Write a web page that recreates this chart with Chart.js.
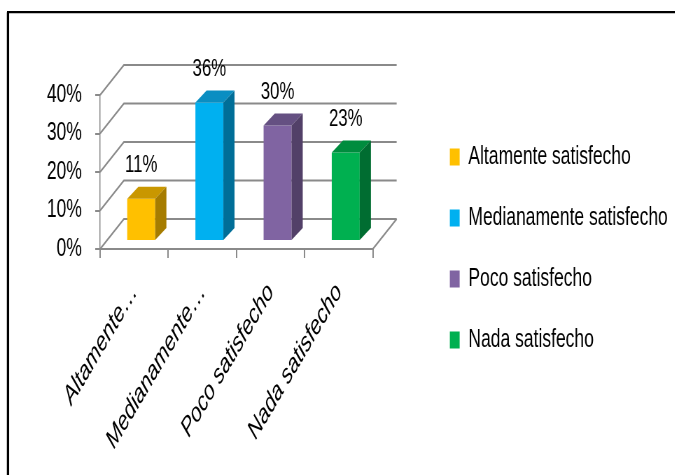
<!DOCTYPE html>
<html>
<head>
<meta charset="utf-8">
<script src="https://cdn.jsdelivr.net/npm/chart.js@4/dist/chart.umd.min.js"></script>
<style>
  html, body { margin: 0; padding: 0; background: #fff; overflow: hidden; }
  /* the chart is laid out wide and squeezed horizontally, like the narrow office font */
  #wrap { width: 964px; height: 475px; transform: scaleX(0.7); transform-origin: 0 0; }
</style>
</head>
<body>
<div id="wrap"><canvas id="chart" width="964" height="475"></canvas></div>
<script>
'use strict';

const categories = ['Altamente satisfecho', 'Medianamente satisfecho', 'Poco satisfecho', 'Nada satisfecho'];
const shares = [0.11, 0.36, 0.30, 0.23];
const yTicks = [0, 0.1, 0.2, 0.3, 0.4];

const frontColors = ['#FFC000', '#00B0F0', '#8064A2', '#00B050'];
const topColors = ['#C99700', '#0A8EC2', '#655082', '#008C3E'];
const sideColors = ['#A67C00', '#006E98', '#524068', '#006D31'];

const FONT = "'Liberation Sans', Arial, sans-serif";
const GRID = '#8a8a8a';

// fake 3D: depth of the back wall and of each column
const WALL_DX = 34, WALL_DY = -30;
const BAR_SHIFT_X = 10, BAR_SHIFT_Y = -8;
const BAR_DX = 16, BAR_DY = -12;

const frame = {
  id: 'frame',
  beforeDraw(chart) {
    const ctx = chart.ctx;
    ctx.save();
    ctx.strokeStyle = '#000';
    ctx.lineWidth = 3.3;
    ctx.beginPath();
    ctx.moveTo(11.4, chart.height + 5);
    ctx.lineTo(11.4, 12.2);
    ctx.stroke();
    ctx.lineWidth = 2.3;
    ctx.beginPath();
    ctx.moveTo(10, 12.2);
    ctx.lineTo(chart.width + 5, 12.2);
    ctx.stroke();
    ctx.restore();
  }
};

const box3d = {
  id: 'box3d',
  beforeDatasetsDraw(chart) {
    const {ctx, chartArea: {left, right, bottom}, scales: {y}} = chart;
    ctx.save();
    ctx.strokeStyle = GRID;
    ctx.lineWidth = 2;
    yTicks.forEach(v => {
      const py = y.getPixelForValue(v);
      ctx.beginPath();
      ctx.moveTo(left, py);
      ctx.lineTo(left + WALL_DX, py + WALL_DY);
      ctx.lineTo(right + WALL_DX, py + WALL_DY);
      ctx.stroke();
    });
    ctx.beginPath();
    ctx.moveTo(right, bottom);
    ctx.lineTo(right + WALL_DX, bottom + WALL_DY);
    ctx.stroke();
    ctx.restore();

    // columns stand in the middle of the floor
    ctx.save();
    ctx.translate(BAR_SHIFT_X, BAR_SHIFT_Y);
  },
  afterDatasetsDraw(chart) {
    const ctx = chart.ctx;
    chart.getDatasetMeta(0).data.forEach((bar, i) => {
      const {x, y, base, width} = bar.getProps(['x', 'y', 'base', 'width'], true);
      const l = x - width / 2, r = x + width / 2;
      ctx.fillStyle = topColors[i];
      ctx.beginPath();
      ctx.moveTo(l, y);
      ctx.lineTo(r, y);
      ctx.lineTo(r + BAR_DX, y + BAR_DY);
      ctx.lineTo(l + BAR_DX, y + BAR_DY);
      ctx.closePath();
      ctx.fill();
      ctx.fillStyle = sideColors[i];
      ctx.beginPath();
      ctx.moveTo(r, y);
      ctx.lineTo(r + BAR_DX, y + BAR_DY);
      ctx.lineTo(r + BAR_DX, base + BAR_DY);
      ctx.lineTo(r, base);
      ctx.closePath();
      ctx.fill();
    });
    ctx.restore();
  }
};

const valueLabels = {
  id: 'valueLabels',
  afterDatasetsDraw(chart) {
    const ctx = chart.ctx;
    ctx.save();
    ctx.font = `24px ${FONT}`;
    ctx.fillStyle = '#000';
    ctx.textAlign = 'center';
    ctx.textBaseline = 'middle';
    chart.getDatasetMeta(0).data.forEach((bar, i) => {
      ctx.fillText(Math.round(shares[i] * 100) + '%', bar.x + BAR_SHIFT_X, bar.y + BAR_SHIFT_Y - 33);
    });
    ctx.restore();
  }
};

// empty axes used only as spacers around the plot
const spacer = (position, size) => ({
  type: 'linear',
  position,
  grid: { display: false },
  border: { display: false },
  ticks: { display: false },
  afterFit: scale => {
    if (position === 'top') scale.height = size;
    else scale.width = size;
  }
});

new Chart(document.getElementById('chart'), {
  type: 'bar',
  data: {
    labels: categories,
    datasets: [{
      data: shares,
      backgroundColor: frontColors,
      borderWidth: 0,
      categoryPercentage: 0.41,
      barPercentage: 1,
      clip: false
    }]
  },
  options: {
    responsive: false,
    animation: false,
    layout: { padding: { top: 22, bottom: 0, left: 10, right: 0 } },
    scales: {
      x: {
        grid: { drawOnChartArea: false, tickLength: 9, color: GRID, lineWidth: 2 },
        border: { color: GRID, width: 2 },
        ticks: {
          autoSkip: false,
          minRotation: 50,
          maxRotation: 50,
          padding: 19,
          color: '#000',
          font: { family: FONT, size: 27, style: 'italic' },
          callback: (v, i) => {
            const name = categories[i];
            return name.length > 16 ? name.split(' ')[0] + '…' : name;
          }
        },
        afterFit: scale => { scale.height = 226; }
      },
      topGap: spacer('top', 73),
      y: {
        min: 0,
        max: 0.4,
        afterBuildTicks: scale => { scale.ticks = yTicks.map(value => ({ value })); },
        grid: { drawOnChartArea: false, tickLength: 7, color: GRID, lineWidth: 2 },
        border: { color: GRID, width: 1.5 },
        ticks: {
          padding: 19,
          color: '#000',
          font: { family: FONT, size: 25 },
          callback: v => Math.round(v * 100) + '%'
        },
        afterFit: scale => { scale.width = 133; }
      },
      gap: spacer('right', 74)
    },
    plugins: {
      tooltip: { enabled: false },
      legend: {
        position: 'right',
        align: 'center',
        maxWidth: 400,
        onClick: null,
        labels: {
          boxWidth: 14,
          boxHeight: 17,
          padding: 36,
          color: '#000',
          font: { family: FONT, size: 25 },
          generateLabels: () => categories.map((text, i) => ({
            text,
            fillStyle: frontColors[i],
            strokeStyle: frontColors[i],
            lineWidth: 0,
            hidden: false,
            index: i
          }))
        }
      }
    }
  },
  plugins: [frame, box3d, valueLabels]
});
</script>
</body>
</html>
